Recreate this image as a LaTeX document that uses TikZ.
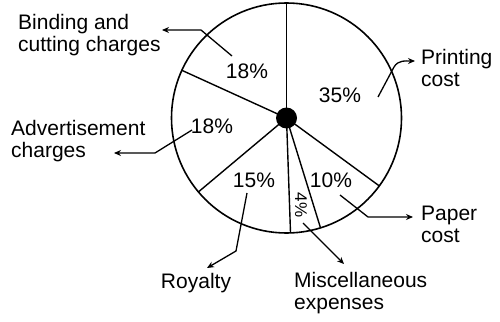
\documentclass[tikz,border=0pt]{standalone}
\usepackage{fontspec}
\setmainfont{Liberation Sans}
\usetikzlibrary{arrows.meta}
\begin{document}
\begin{tikzpicture}[x=1pt,y=-1pt,
  lab/.style={font=\fontsize{21}{22}\selectfont, align=left, inner sep=0pt},
  pct/.style={font=\fontsize{21}{22}\selectfont, inner sep=0pt},
  arr/.style={line width=1.3pt, -{Stealth[length=7pt,width=6pt]}},
  slice/.style={line width=1.4pt}]
\useasboundingbox (0,0) rectangle (500,321);
\coordinate (C) at (286.5,118);
\draw[line width=1.6pt] (C) circle[radius=115pt];
\foreach \a in {90,-36.2,-72.8,-88,-140,155.5} \draw[slice] (C) -- ++(\a:115pt);
\fill (C) circle[radius=10.5pt];
% percentages
\node[pct] (p35) at (340,95) {35\%};
\node[pct] (p10) at (331,180) {10\%};
\node[pct, font=\fontsize{17}{18}\selectfont, rotate=-90] (p4) at (301,205) {4\%};
\node[pct] (p15) at (254,180) {15\%};
\node[pct] (p18a) at (212,126) {18\%};
\node[pct] (p18b) at (247,71) {18\%};
% labels
\node[lab, anchor=west] (bind) at (18,35.5) {Binding and\\cutting charges};
\node[lab, anchor=west] (print) at (421,68) {Printing\\cost};
\node[lab, anchor=west] (adv) at (11,141.5) {Advertisement\\charges};
\node[lab] (roy) at (196,283) {Royalty};
\node[lab, anchor=west] (paper) at (421,224) {Paper\\cost};
\node[lab, anchor=west] (misc) at (294,293.5) {Miscellaneous\\expenses};
% arrow ends
\coordinate (sb) at (232,56);   \coordinate (tb) at (162,30);
\coordinate (sp) at (378,97);   \coordinate (tp) at (415,61);
\coordinate (sa) at (192,130);  \coordinate (ta) at (114,153);
\coordinate (sr) at (247,193);  \coordinate (tr) at (207,268);
\coordinate (spc) at (340,195); \coordinate (tpc) at (413,217);
\coordinate (sm) at (303,223);  \coordinate (tm) at (344,264);
\draw[arr] (sb) -- (201,30) -- (tb);
\draw[arr] (sp) -- (394,67) to[out=60,in=180] (tp);
\draw[arr] (sa) -- (155,153) -- (ta);
\draw[arr] (sr) -- (236,251) -- (tr);
\draw[arr] (spc) -- (368,217) -- (tpc);
\draw[arr] (sm) -- (tm);
\end{tikzpicture}
\end{document}
